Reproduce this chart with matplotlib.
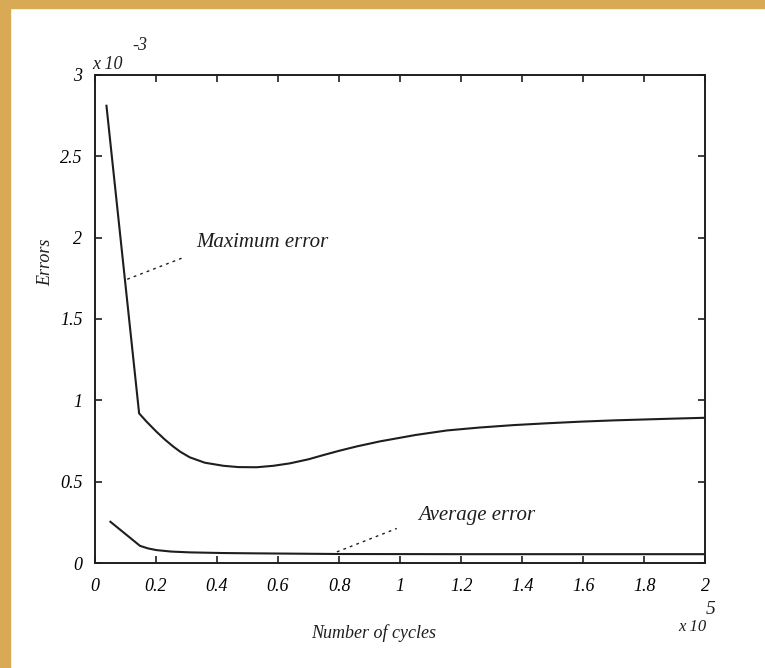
import matplotlib
matplotlib.use("Agg")
import matplotlib.pyplot as plt
from matplotlib.patches import Rectangle

# cycles in units of 1e5, errors in units of 1e-3
max_x = [0.038, 0.145, 0.17, 0.202, 0.23, 0.257, 0.28, 0.311, 0.36, 0.421, 0.47,
         0.530, 0.585, 0.639, 0.70, 0.749, 0.80, 0.858, 0.934, 1.05, 1.153, 1.26,
         1.372, 1.48, 1.590, 1.70, 1.809, 1.90, 2.0]
max_y = [2.81, 0.92, 0.868, 0.807, 0.758, 0.716, 0.684, 0.650, 0.617, 0.598, 0.590,
         0.589, 0.598, 0.613, 0.638, 0.664, 0.690, 0.717, 0.748, 0.787, 0.815, 0.833,
         0.848, 0.859, 0.869, 0.877, 0.883, 0.888, 0.893]

avg_x = [0.051, 0.148, 0.175, 0.202, 0.25, 0.311, 0.42, 0.53, 0.80, 1.2, 1.6, 2.0]
avg_y = [0.254, 0.106, 0.090, 0.080, 0.071, 0.066, 0.062, 0.060, 0.056, 0.055, 0.055, 0.055]

xticks = [0, 0.2, 0.4, 0.6, 0.8, 1, 1.2, 1.4, 1.6, 1.8, 2]
xlabels = ["0", "0.2", "0.4", "0.6", "0.8", "1", "1.2", "1.4", "1.6", "1.8", "2"]
yticks = [0, 0.5, 1, 1.5, 2, 2.5, 3]
ylabels = ["0", "0.5", "1", "1.5", "2", "2.5", "3"]

font = dict(family="Liberation Serif", style="italic")
ink = "#1e1e1e"

fig = plt.figure(figsize=(7.65, 6.68), dpi=100)
ax = fig.add_axes([0.124, 0.157, 0.798, 0.731])

ax.plot(max_x, max_y, color=ink, lw=1.5, solid_joinstyle="round")
ax.plot(avg_x, avg_y, color=ink, lw=1.5, solid_joinstyle="round")

ax.set_xlim(0, 2)
ax.set_ylim(0, 3)
ax.set_xticks(xticks)
ax.set_xticklabels(xlabels, fontsize=13, **font)
ax.set_yticks(yticks)
ax.set_yticklabels(ylabels, fontsize=13, **font)
ax.tick_params(direction="in", top=True, right=True, length=5, width=1.2, color=ink)
ax.tick_params(axis="x", pad=11)
ax.tick_params(axis="y", pad=9)
for s in ax.spines.values():
    s.set_linewidth(1.4)
    s.set_color(ink)

ax.set_xlabel("Number of cycles", fontsize=13, color=ink, **font)
ax.xaxis.set_label_coords(0.457, -0.125)
ax.set_ylabel("Errors", fontsize=13, color=ink, **font)
ax.yaxis.set_label_coords(-0.066, 0.617)

# exponent labels
ax.text(-0.005, 1.012, "x 10", transform=ax.transAxes, fontsize=13, color=ink, **font)
ax.text(0.062, 1.05, "-3", transform=ax.transAxes, fontsize=13, color=ink, **font)
ax.text(0.955, -0.14, "x 10", transform=ax.transAxes, fontsize=12, color=ink, **font)
ax.text(1.0, -0.105, "5", transform=ax.transAxes, fontsize=14, color=ink, **font)

# annotations with dotted leaders
ax.plot([0.106, 0.284], [1.744, 1.873], color=ink, lw=1, ls=(0, (2, 3)))
ax.text(0.331, 1.967, "Maximum error", fontsize=15, va="center", color=ink, **font)
ax.plot([0.793, 0.989], [0.069, 0.213], color=ink, lw=1, ls=(0, (2, 3)))
ax.text(1.06, 0.295, "Average error", fontsize=15, va="center", color=ink, **font)

# frame strips of the page
gold = "#d8aa56"
fig.patches.append(Rectangle((0, 0), 0.013, 1, transform=fig.transFigure, color=gold, zorder=-1))
fig.patches.append(Rectangle((0, 0.988), 1, 0.012, transform=fig.transFigure, color=gold, zorder=-1))

fig.savefig("out.png", dpi=100)
